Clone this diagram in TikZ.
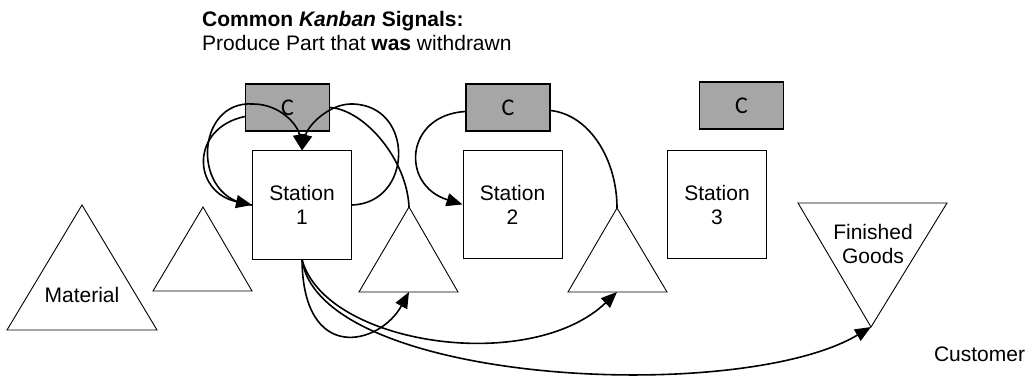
\documentclass[tikz,border=0pt]{standalone}
\usepackage{fontspec}
\setmainfont{Liberation Sans}
\newfontfamily\cardfont{Carlito}
\usetikzlibrary{arrows.meta,positioning}
\definecolor{cardgray}{RGB}{166,166,166}

\begin{document}
\begin{tikzpicture}[x=1pt,y=-1pt,
    card/.style={draw,line width=1.2pt,fill=cardgray,minimum width=84pt,minimum height=47pt,inner sep=0pt,font=\cardfont\fontsize{24}{26}\selectfont},
    station/.style={draw,line width=1pt,fill=white,minimum width=99pt,minimum height=108pt,inner sep=0pt,align=center,font=\fontsize{21}{24}\selectfont},
    tri/.style={draw,line width=0.9pt},
    lbl/.style={align=center,inner sep=0pt,font=\fontsize{21}{24}\selectfont},
    sig/.style={line width=1.6pt,-{Triangle[length=16pt,width=13pt]}},
    link/.style={line width=1.6pt}
]
\useasboundingbox (0,0) rectangle (1035,379);

% heading
\node[anchor=base west,inner sep=0pt,font=\fontsize{21}{24}\selectfont\bfseries] (title) at (202,27) {Common \textit{Kanban} Signals:};
\node[anchor=base west,inner sep=0pt,font=\fontsize{21}{24}\selectfont] (sub) at (202,51) {Produce Part that \textbf{was} withdrawn};

% inventory triangles
\draw[tri] (82,205) coordinate (mat) -- (157,330) -- (7,330) -- cycle;
\node[lbl] (matl) at (82,295) {Material};
\draw[tri] (203,207) coordinate (t1) -- (252,291) -- (153,291) -- cycle;
\draw[tri] (409,207) coordinate (t2) -- (458,292) -- (359,292) -- cycle;
\coordinate (t2b) at (409,292);
\draw[tri] (617,208) coordinate (t3) -- (667,292) -- (568,292) -- cycle;
\coordinate (t3b) at (617,292);
\draw[tri] (798,203) -- (947,203) -- (871,327) coordinate (fg) -- cycle;
\node[lbl] (fgl) at (873,243.5) {Finished\\Goods};
\node[lbl] (cust) at (979.5,354) {Customer};

% stations and cards
\node[station] (s1) at (302,205) {Station\\1};
\node[station] (s2) at (512.5,204.5) {Station\\2};
\node[station] (s3) at (717,204.5) {Station\\3};
\node[card] (c1) at (287.5,107.5) {C};
\node[card] (c2) at (508,107.5) {C};
\node[card] (c3) at (741.5,105.5) {C};

% signals for station 1
\draw[sig] ([yshift=-9pt]c1.west) .. controls (190,128) and (192,192) .. (s1.west);
\draw[sig] (s1.west) .. controls (190,200) and (195,100) .. (253,104)
    .. controls (280,104) and (298,125) .. (s1.north);
\draw[sig] (s1.east) .. controls (413,203) and (415,106) .. (353,104)
    .. controls (330,103) and (308,125) .. (s1.north);
\draw[link] (c1.east) .. controls (365,110) and (407,160) .. (t2);

% signals for station 2
\draw[sig] ([yshift=-4pt]c2.west) .. controls (405,115) and (400,185) .. (s2.west);
\draw[link] ([yshift=-3pt]c2.east) .. controls (590,115) and (617,160) .. (t3);

% parts out of station 1
\draw[sig] (s1.south) .. controls (303,365) and (380,345) .. (t2b);
\draw[sig] (s1.south) .. controls (325,345) and (530,375) .. (t3b);
\draw[sig] (s1.south) .. controls (320,385) and (740,405) .. (fg);
\end{tikzpicture}
\end{document}
